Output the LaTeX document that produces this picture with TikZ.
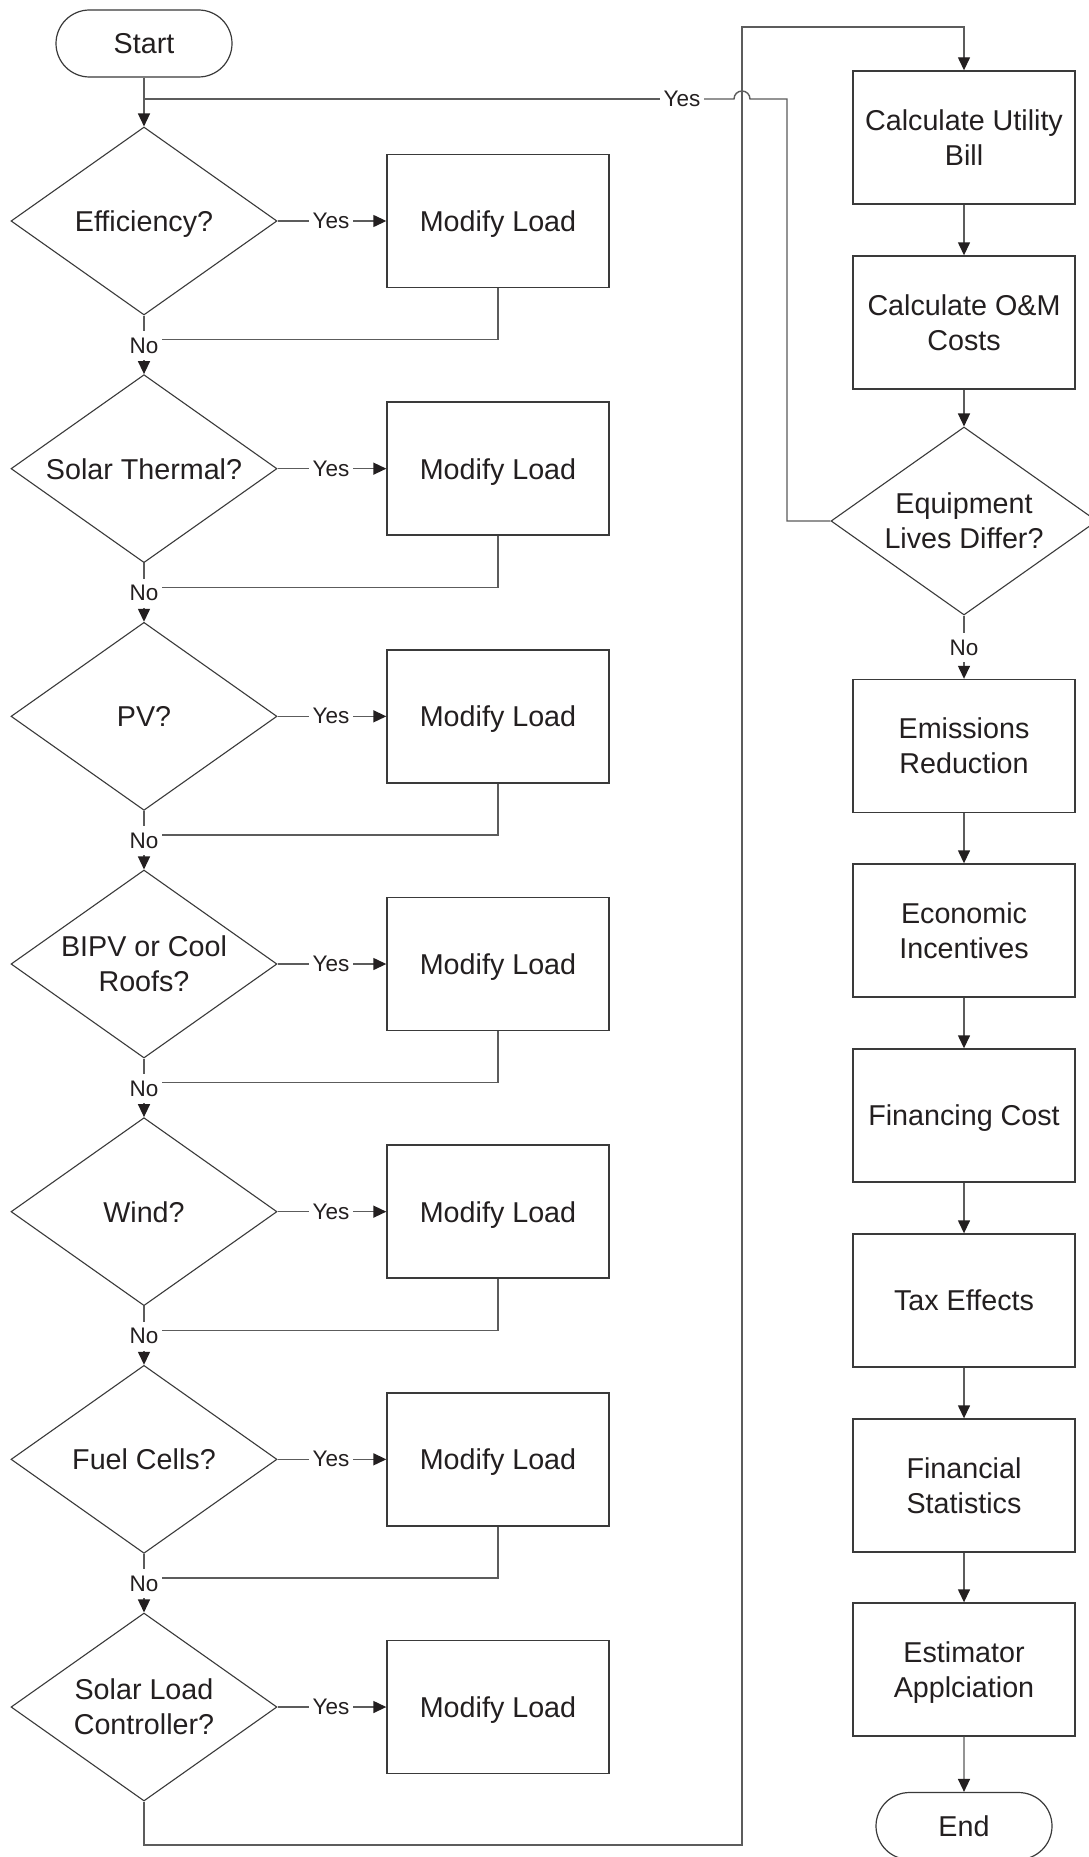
\documentclass[tikz,border=0pt]{standalone}
\usepackage{fontspec}
\setmainfont{Liberation Sans}
\usetikzlibrary{shapes.geometric,shapes.misc,arrows.meta,calc}
\definecolor{ink}{HTML}{231F20}
\definecolor{edge}{HTML}{3A3A3A}
\definecolor{wire}{HTML}{5C5C5C}

\begin{document}
\begin{tikzpicture}[x=1pt,y=-1pt,
  line width=1.4pt,
  every node/.style={text=ink, font=\fontsize{28.7}{35}\selectfont},
  terminal/.style={rounded rectangle, draw=edge, line width=1.2pt,
    minimum width=176pt, minimum height=67pt, inner sep=0pt, text depth=0pt},
  process/.style={rectangle, draw=edge, line width=1.4pt,
    minimum width=222pt, minimum height=133pt, align=center, inner sep=0pt,
    text depth=0pt},
  decision/.style={diamond, draw=edge, line width=1.1pt, shape aspect=1.41,
    minimum width=266pt, minimum height=188pt, align=center, inner sep=0pt,
    text depth=0pt},
  lbl/.style={font=\fontsize{22.5}{27}\selectfont, inner xsep=3pt, inner ysep=6pt},
  link/.style={draw=wire},
  flow/.style={draw=wire, -{Triangle[length=13pt,width=12pt,color=ink]}},
]
\useasboundingbox (0,0) rectangle (1089,1857);
\clip (0,0) rectangle (1089,1857);
\fill[white] (0,0) rectangle (1089,1857);

% left column: start and the chain of load modifiers
\node[terminal] (start) at (144,43.5) {Start};
\coordinate (jn) at (144,99);

\foreach \q [count=\i] in {{Efficiency?},{Solar Thermal?},{PV?},{BIPV or Cool\\Roofs?},{Wind?},{Fuel Cells?},{Solar Load\\Controller?}} {
  \pgfmathsetmacro\yy{221+247.667*(\i-1)}
  \node[decision] (d\i) at (144,\yy) {\q};
  \node[process] (m\i) at (498,\yy) {Modify Load};
  \node[lbl] (y\i) at (331,\yy) {Yes};
  \draw[link] (d\i.east) -- (y\i.west);
  \draw[flow] (y\i.east) -- (m\i.west);
}

\foreach \i [evaluate=\i as \j using int(\i+1)] in {1,...,6} {
  \node[lbl] (n\i) at ($(d\i.south)+(0,30)$) {No};
  \draw[link] (d\i.south) -- (n\i.north);
  \draw[flow] (n\i.south) -- (d\j.north);
  \draw[link] (m\i.south) |- ($(n\i.east)+(0,-6)$);
}

\draw[link] (start.south) -- (jn);
\draw[flow] (jn) -- (d1.north);

% right column: cost and financial evaluation
\node[process] (r1) at (964,137.5) {Calculate Utility\\Bill};
\node[process] (r2) at (964,322.5) {Calculate O\&M\\Costs};
\node[decision] (eq) at (964,521) {Equipment\\Lives Differ?};
\node[process] (r3) at (964,746) {Emissions\\Reduction};
\node[process] (r4) at (964,930.5) {Economic\\Incentives};
\node[process] (r5) at (964,1115.5) {Financing Cost};
\node[process] (r6) at (964,1300.5) {Tax Effects};
\node[process] (r7) at (964,1485.5) {Financial\\Statistics};
\node[process] (r8) at (964,1669.5) {Estimator\\Applciation};
\node[terminal] (end) at (964,1826) {End};
\node[lbl] (neq) at ($(eq.south)+(0,32)$) {No};

\draw[flow] (r1) -- (r2);
\draw[flow] (r2) -- (eq);
\draw[link] (eq.south) -- (neq.north);
\draw[flow] (neq.south) -- (r3.north);
\draw[flow] (r3) -- (r4);
\draw[flow] (r4) -- (r5);
\draw[flow] (r5) -- (r6);
\draw[flow] (r6) -- (r7);
\draw[flow] (r7) -- (r8);
\draw[flow] (r8) -- (end);

% connector from the last decision over to the right column
\coordinate (b2) at (742,1845);
\coordinate (b3) at (742,27);
\draw[flow] (d7.south) |- (b2) -- (b3) -| (r1.north);

% loop back when equipment lives differ, hopping over the connector
\node[lbl] (yq) at (682,99) {Yes};
\coordinate (loopc) at (787,99);
\coordinate (jmp) at (742,99);
\draw[link] (eq.west) -| (loopc) -- ($(jmp)+(8,0)$)
  arc[start angle=0,end angle=180,radius=8pt] -- (yq.east);
\draw[link] (yq.west) -- (jn);
\end{tikzpicture}
\end{document}
